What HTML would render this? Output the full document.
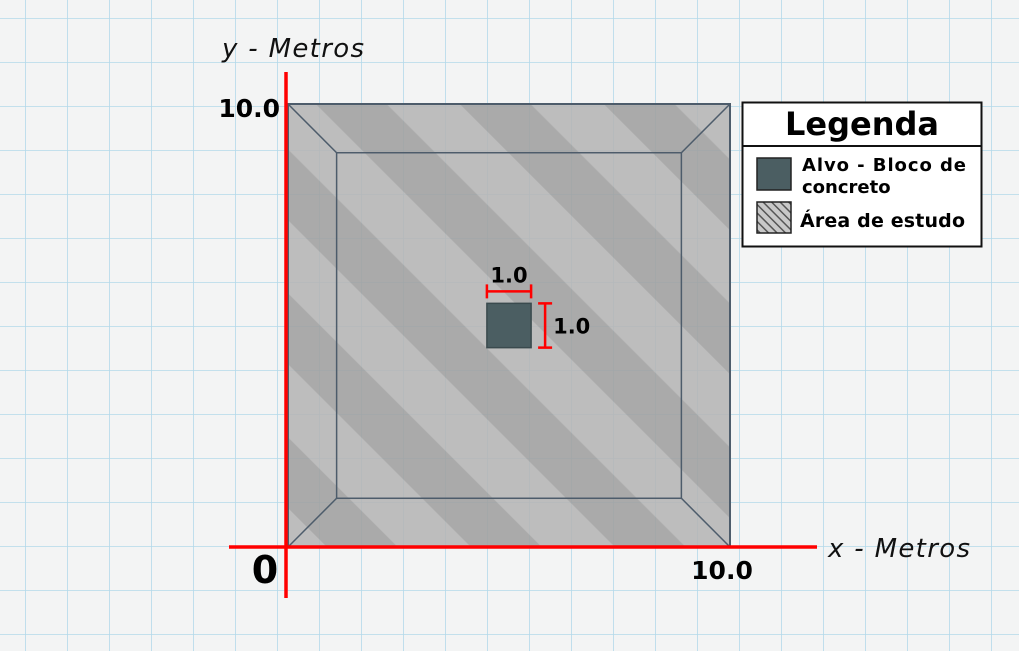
<!DOCTYPE html>
<html><head><meta charset="utf-8"><style>
body{margin:0;width:1019px;height:651px;overflow:hidden;background:#f3f4f4;font-family:"DejaVu Sans","Liberation Sans",sans-serif}
svg{position:absolute;left:0;top:0}
</style></head><body>
<svg width="1019" height="651">
<defs>
<pattern id="grid" patternUnits="userSpaceOnUse" x="25" y="18" width="42" height="44">
<path d="M0 0V44M0 0H42" stroke="#b3d9ea" stroke-width="1.6" fill="none"/>
</pattern>
<pattern id="stripes" patternUnits="userSpaceOnUse" width="101.8" height="101.8" patternTransform="rotate(-45)">
<rect x="0" y="0" width="101.8" height="101.8" fill="#b5b5b5"/>
<rect x="48" y="0" width="50" height="101.8" fill="#a0a0a0"/>
</pattern>
<pattern id="hatch" patternUnits="userSpaceOnUse" width="6" height="6" patternTransform="rotate(-45)">
<rect width="6" height="6" fill="#c8c8c8"/><rect width="1.5" height="6" fill="#555"/>
</pattern>
</defs>
<rect width="1019" height="651" fill="url(#grid)"/>
<g id="plot"></g>
<text x="222" y="57" font-size="26" font-style="italic" fill="#111" textLength="142">y - Metros</text>
<text x="828" y="557" font-size="26" font-style="italic" fill="#111" textLength="142">x - Metros</text>
<g>
<rect x="742.5" y="102.5" width="239" height="144" fill="#fff" stroke="#111" stroke-width="2"/>
<line x1="742" y1="146" x2="982" y2="146" stroke="#111" stroke-width="2"/>
<text x="862" y="135" font-size="32" font-weight="bold" text-anchor="middle" fill="#000">Legenda</text>
<rect x="757" y="158" width="34" height="32" fill="#4b5e62" stroke="#222" stroke-width="1.5"/>
<text x="802" y="171" font-size="18" font-weight="bold" fill="#000"><tspan textLength="164">Alvo - Bloco de</tspan><tspan x="802" dy="22">concreto</tspan></text>
<rect x="757" y="202" width="34" height="31" fill="url(#hatch)" stroke="#222" stroke-width="1.5"/>
<text x="800" y="227" font-size="19" font-weight="bold" fill="#000" textLength="165">Área de estudo</text>
</g>
</svg>
<script>
const xDomain=[0,10];
const yDomain=[0,10];
const areaBounds=[0,10];
const innerInset=[1.1];
const blockX=[4.5];
const blockY=[4.5];
const blockSize=[1.0];
const tickLabels=["0","10.0"];
const dimLabels=["1.0","1.0"];
const X0=288,X1=730,Y0=547,Y1=104;
const sx=v=>X0+(v-xDomain[0])/(xDomain[1]-xDomain[0])*(X1-X0);
const sy=v=>Y0-(v-yDomain[0])/(yDomain[1]-yDomain[0])*(Y0-Y1);
const NS="http://www.w3.org/2000/svg";
const g=document.getElementById('plot');
function mk(t,a){const e=document.createElementNS(NS,t);for(const k in a)e.setAttribute(k,a[k]);g.appendChild(e);return e;}
const ax0=sx(areaBounds[0]),ax1=sx(areaBounds[1]),ay0=sy(areaBounds[0]),ay1=sy(areaBounds[1]);
const ix0=sx(areaBounds[0]+innerInset[0]),ix1=sx(areaBounds[1]-innerInset[0]),iy0=sy(areaBounds[0]+innerInset[0]),iy1=sy(areaBounds[1]-innerInset[0]);
let a=mk('rect',{x:ax0,y:ay1,width:ax1-ax0,height:ay0-ay1,fill:'url(#stripes)','fill-opacity':0.88,stroke:'#4d5c6b','stroke-width':2});


let inn=mk('rect',{x:ix0,y:iy1,width:ix1-ix0,height:iy0-iy1,fill:'none',stroke:'#4d5c6b','stroke-width':1.5});


[[ax0,ay1,ix0,iy1],[ax1,ay1,ix1,iy1],[ax0,ay0,ix0,iy0],[ax1,ay0,ix1,iy0]].forEach(c=>{
 let l=mk('line',{x1:c[0],y1:c[1],x2:c[2],y2:c[3],stroke:'#4d5c6b','stroke-width':1.5});
 
 
});
const bx0=sx(blockX[0]),bx1=sx(blockX[0]+blockSize[0]),by1=sy(blockY[0]+blockSize[0]),by0=sy(blockY[0]);
let b=mk('rect',{x:bx0,y:by1,width:bx1-bx0,height:by0-by1,fill:'#4b5e62',stroke:'#3a4a4e','stroke-width':1.5});


let d1=mk('path',{d:`M${bx0} ${by1-12}H${bx1}M${bx0} ${by1-19}V${by1-5}M${bx1} ${by1-19}V${by1-5}`,stroke:'#f00','stroke-width':2.5,fill:'none'});


let d2=mk('path',{d:`M${bx1+14} ${by1}V${by0}M${bx1+7} ${by1}H${bx1+21}M${bx1+7} ${by0}H${bx1+21}`,stroke:'#f00','stroke-width':2.5,fill:'none'});


let t1=mk('text',{x:(bx0+bx1)/2,y:by1-21,'font-size':21,'font-weight':'bold','text-anchor':'middle',fill:'#000'});t1.textContent=dimLabels[0];


let t2=mk('text',{x:bx1+22,y:(by0+by1)/2+8,'font-size':21,'font-weight':'bold',fill:'#000'});t2.textContent=dimLabels[1];


let xa=mk('line',{x1:229,y1:Y0,x2:817,y2:Y0,stroke:'#f00','stroke-width':3.5});


let ya=mk('line',{x1:X0-2,y1:72,x2:X0-2,y2:598,stroke:'#f00','stroke-width':3.5});


let o=mk('text',{x:265,y:583,'font-size':38,'font-weight':'bold','text-anchor':'middle',fill:'#000'});o.textContent=tickLabels[0];


let xt=mk('text',{x:sx(xDomain[1])-8,y:579,'font-size':25,'font-weight':'bold','text-anchor':'middle',fill:'#000'});xt.textContent=tickLabels[1];


let yt=mk('text',{x:280,y:sy(yDomain[1])+13,'font-size':25,'font-weight':'bold','text-anchor':'end',fill:'#000'});yt.textContent=tickLabels[1];


</script>
</body></html>
